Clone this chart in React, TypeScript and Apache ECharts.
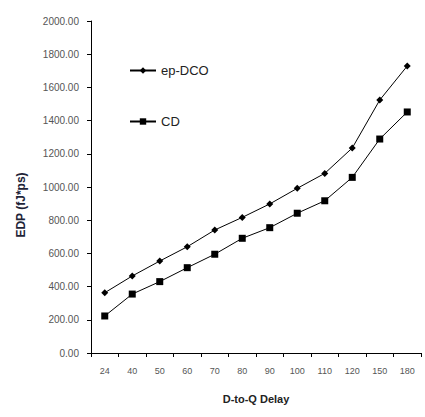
import React, { useEffect, useRef } from "react";
import * as echarts from "echarts";

const categories = ["24", "40", "50", "60", "70", "80", "90", "100", "110", "120", "150", "180"];
const epDcoValues = [363, 464, 554, 640, 741, 817, 898, 992, 1082, 1235, 1524, 1729];
const cdValues = [223, 355, 430, 514, 595, 691, 755, 842, 917, 1058, 1289, 1452];
const seriesNames = ["ep-DCO", "CD"];

export default function App() {
  const ref = useRef<HTMLDivElement>(null);
  useEffect(() => {
    if (!ref.current) return;
    const chart = echarts.init(ref.current, null, { renderer: "svg" });
    chart.setOption({
      animation: false,
      backgroundColor: "#ffffff",
      grid: { left: 91, right: 4, top: 21, bottom: 64 },
      legend: {
        orient: "vertical",
        left: 124,
        top: 59,
        itemGap: 38,
        itemWidth: 26,
        itemHeight: 8,
        textStyle: { fontFamily: "Liberation Sans, Arial, sans-serif", fontSize: 13, color: "#222" },
        data: seriesNames,
      },
      xAxis: {
        type: "category",
        data: categories,
        name: "D-to-Q Delay",
        nameLocation: "middle",
        nameGap: 40,
        nameTextStyle: { fontFamily: "Liberation Sans, Arial, sans-serif", fontSize: 11, fontWeight: "bold", color: "#222" },
        axisLine: { lineStyle: { color: "#000", width: 1 } },
        axisTick: { show: true, length: 4, lineStyle: { color: "#000" } },
        axisLabel: { fontFamily: "Liberation Sans, Arial, sans-serif", fontSize: 9, color: "#555", margin: 13 },
      },
      yAxis: {
        type: "value",
        min: 0,
        max: 2000,
        interval: 200,
        name: "EDP (fJ*ps)",
        nameLocation: "middle",
        nameGap: 64,
        nameMoveOverlap: false,
        nameTextStyle: { fontFamily: "Liberation Sans, Arial, sans-serif", fontSize: 12, fontWeight: "bold", color: "#1e2438", padding: [0, 0, 0, -36] },
        axisLine: { show: true, lineStyle: { color: "#000", width: 1 } },
        axisTick: { show: true, length: 4, lineStyle: { color: "#000" } },
        splitLine: { show: false },
        axisLabel: {
          fontFamily: "Liberation Sans, Arial, sans-serif",
          fontSize: 10,
          color: "#555",
          margin: 12,
          formatter: (v: number) => v.toFixed(2),
        },
      },
      series: [
        {
          name: seriesNames[0],
          type: "line",
          data: epDcoValues,
          symbol: "diamond",
          symbolSize: 7,
          itemStyle: { color: "#000" },
          lineStyle: { color: "#000", width: 1 },
        },
        {
          name: seriesNames[1],
          type: "line",
          data: cdValues,
          symbol: "rect",
          symbolSize: 7,
          itemStyle: { color: "#000" },
          lineStyle: { color: "#000", width: 1 },
        },
      ],
    });
    return () => chart.dispose();
  }, []);
  return <div ref={ref} style={{ position: "absolute", left: 0, top: 0, width: 425, height: 417 }} />;
}
